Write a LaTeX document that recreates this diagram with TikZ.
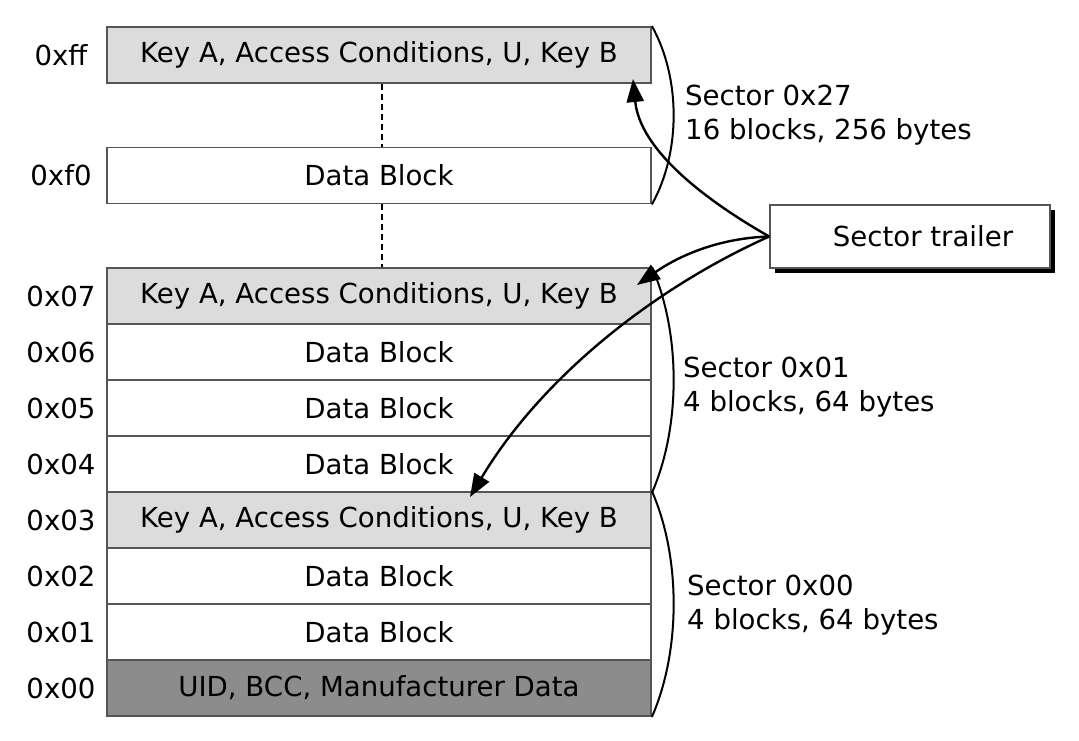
\documentclass[tikz,border=0pt]{standalone}
\usepackage{fontspec}
\setmainfont{DejaVu Sans}
\usetikzlibrary{arrows.meta,shadows}
\definecolor{keygray}{HTML}{DCDCDC}
\definecolor{uidgray}{HTML}{8C8C8C}
\definecolor{edgegray}{HTML}{555555}
\begin{document}
\begin{tikzpicture}[x=1pt,y=-1pt,
  every node/.style={font=\fontsize{27.6}{34}\selectfont},
  blk/.style={draw=edgegray,line width=1.8pt,minimum width=544pt,minimum height=56pt,inner sep=0pt,fill=white},
  keyblk/.style={blk,fill=keygray},
  uidblk/.style={blk,fill=uidgray},
  addr/.style={anchor=center},
  brace/.style={line width=2pt,black},
  pointer/.style={line width=2.4pt,black,-{Triangle[length=23pt,width=17pt]}},
  seclabel/.style={anchor=west,align=left,inner sep=0pt}]
\useasboundingbox (0,0) rectangle (1079,740);
% blocks
\node[keyblk] (bff) at (379,55) {Key A, Access Conditions, U, Key B};
\node[blk] (bf0) at (379,175.5) {Data Block};
\node[keyblk] (b07) at (379,296) {Key A, Access Conditions, U, Key B};
\node[blk] (b06) at (379,352) {Data Block};
\node[blk] (b05) at (379,408) {Data Block};
\node[blk] (b04) at (379,464) {Data Block};
\node[keyblk] (b03) at (379,520) {Key A, Access Conditions, U, Key B};
\node[blk] (b02) at (379,576) {Data Block};
\node[blk] (b01) at (379,632) {Data Block};
\node[uidblk] (b00) at (379,688) {UID, BCC, Manufacturer Data};
% addresses
\node[addr] (aff) at (61,55) {0xff};
\node[addr] (af0) at (61,175.5) {0xf0};
\node[addr] (a07) at (61,296) {0x07};
\node[addr] (a06) at (61,352) {0x06};
\node[addr] (a05) at (61,408) {0x05};
\node[addr] (a04) at (61,464) {0x04};
\node[addr] (a03) at (61,520) {0x03};
\node[addr] (a02) at (61,576) {0x02};
\node[addr] (a01) at (61,632) {0x01};
\node[addr] (a00) at (61,688) {0x00};
% dashed gaps
\draw[black,line width=1.6pt,dash pattern=on 6pt off 4pt] ([xshift=3pt]bff.south) -- ([xshift=3pt]bf0.north);
\draw[black,line width=1.6pt,dash pattern=on 6pt off 4pt] ([xshift=3pt]bf0.south) -- ([xshift=3pt]b07.north);
% braces
\draw[brace] (bff.north east) .. controls +(29,52) and +(29,-52) .. (bf0.south east);
\draw[brace] (b07.north east) .. controls +(29,66) and +(29,-66) .. (b04.south east);
\draw[brace] (b03.north east) .. controls +(29,66) and +(29,-66) .. (b00.south east);
% sector labels
\node[seclabel] (s27) at (685,115.5) {Sector 0x27\\16 blocks, 256 bytes};
\node[seclabel] (s01) at (683,387.5) {Sector 0x01\\4 blocks, 64 bytes};
\node[seclabel] (s00) at (687,605) {Sector 0x00\\4 blocks, 64 bytes};
% sector trailer
\node[draw=edgegray,line width=1.6pt,fill=white,minimum width=280pt,minimum height=63pt,
  drop shadow={shadow xshift=5pt,shadow yshift=-5pt,opacity=1,fill=black}] (trailer) at (910,236.5)
  {\hspace*{26pt}Sector trailer};
\coordinate (tff) at (633,79);
\coordinate (t07) at (637,285);
\coordinate (t03) at (470,497);
\draw[pointer] (trailer.west) .. controls (705,200) and (640,150) .. (tff);
\draw[pointer] (trailer.west) .. controls (720,238) and (680,255) .. (t07);
\draw[pointer] (trailer.west) .. controls (650,290) and (540,380) .. (t03);
\end{tikzpicture}
\end{document}
